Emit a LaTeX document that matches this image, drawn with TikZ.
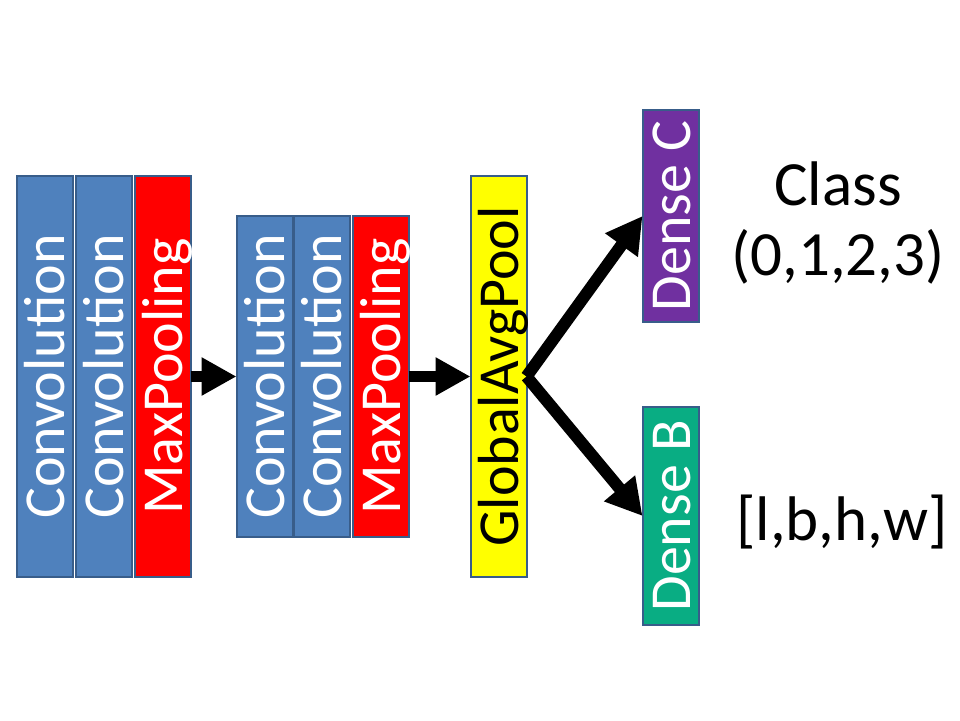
\documentclass[tikz,border=0pt]{standalone}
\usepackage{fontspec}
\setmainfont{Carlito}
\usepackage{graphicx}
\usetikzlibrary{arrows.meta}
\definecolor{convblue}{HTML}{4F81BD}
\definecolor{edgeblue}{HTML}{385D8A}
\definecolor{poolred}{HTML}{FF0000}
\definecolor{gapyellow}{HTML}{FFFF00}
\definecolor{densepurple}{HTML}{7030A0}
\definecolor{densegreen}{RGB}{9,173,131}
\newcommand{\uptext}[1]{\rotatebox{90}{\raisebox{0pt}[40pt][0pt]{#1}}}

\begin{document}
\begin{tikzpicture}[x=1pt, y=-1pt]
    \tikzstyle{layer}=[draw=edgeblue, line width=2pt, inner sep=0pt, outer sep=0pt, minimum width=56pt, text=white, font=\fontsize{58}{70}\selectfont]
    \tikzstyle{conv}=[layer, fill=convblue]
    \tikzstyle{pool}=[layer, fill=poolred]
    \tikzstyle{flow}=[line width=11pt, -{Triangle[length=35pt,width=36pt]}]
    \tikzstyle{fork}=[line width=12pt, -{Triangle[length=36pt,width=38pt]}]
    \tikzstyle{outtext}=[font=\fontsize{63}{70}\selectfont, align=center, inner sep=0pt]

    \useasboundingbox (0,0) rectangle (960,720);

    % first block
    \node[conv, minimum height=401pt] (conv1a) at (44.5,376.5) {\uptext{Convolution}};
    \node[conv, minimum height=401pt] (conv1b) at (103.5,376.5) {\uptext{Convolution}};
    \node[pool, minimum height=401pt] (pool1) at (162.5,376.5) {\uptext{MaxPooling}};

    % second block
    \node[conv, minimum height=321pt] (conv2a) at (264.5,376.5) {\uptext{Convolution}};
    \node[conv, minimum height=321pt] (conv2b) at (321.5,376.5) {\uptext{Convolution}};
    \node[pool, minimum height=321pt] (pool2) at (380.5,376.5) {\uptext{MaxPooling}};

    \node[layer, fill=gapyellow, text=black, minimum height=401pt] (gap) at (498.5,376.5) {\uptext{GlobalAvgPool}};

    \node[layer, fill=densepurple, minimum height=212pt] (densec) at (670.5,216) {\uptext{Dense C}};
    \node[layer, fill=densegreen, minimum height=218pt] (denseb) at (670.5,516) {\uptext{Dense B}};

    \node[outtext] (classout) at (838,223) {Class\\(0,1,2,3)};
    \node[outtext, anchor=base] (boxout) at (842,540) {[l,b,h,w]};

    \draw[flow] (pool1.east) -- (conv2a.west);
    \draw[flow] (pool2.east) -- (gap.west);
    \draw[fork] (gap.east) -- (densec.west);
    \draw[fork] (gap.east) -- (denseb.west);
\end{tikzpicture}
\end{document}
